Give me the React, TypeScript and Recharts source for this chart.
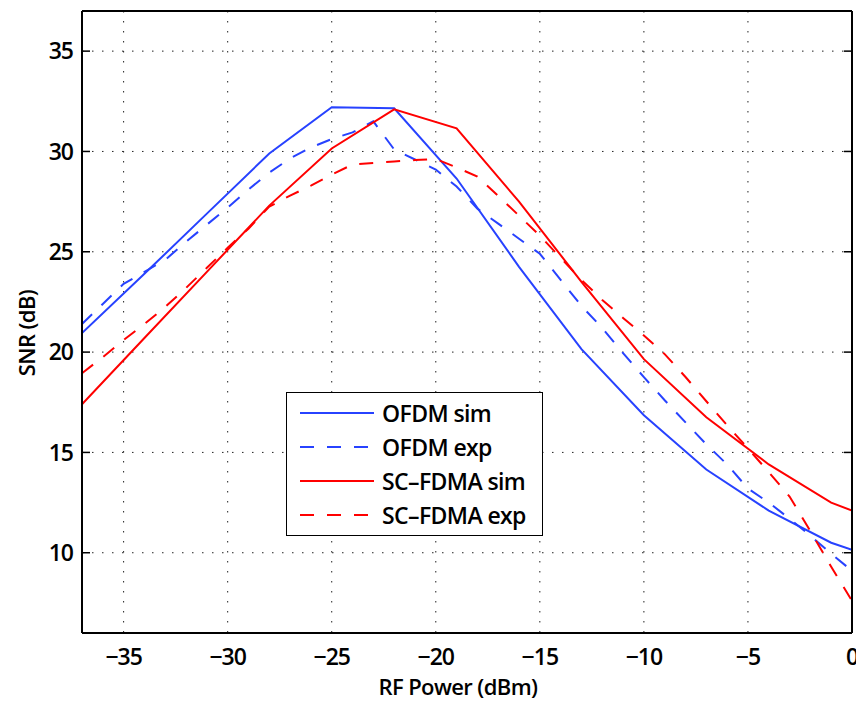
import { LineChart, Line, XAxis, YAxis, CartesianGrid, Legend } from 'recharts';

// simulation points every 3 dB
const SIM_POWER = [-37, -34, -31, -28, -25, -22, -19, -16, -13, -10, -7, -4, -1, 0];
const OFDM_SIM = [20.95, 23.9, 26.9, 29.9, 32.2, 32.15, 28.65, 24.25, 20.15, 16.85, 14.15, 12.1, 10.5, 10.15];
const SCFDMA_SIM = [17.4, 20.7, 24.0, 27.3, 30.15, 32.1, 31.15, 27.5, 23.5, 19.65, 16.75, 14.4, 12.5, 12.1];

// measured points every 1 dB
const EXP_POWER = [
  -37, -36, -35, -34, -33, -32, -31, -30, -29, -28, -27, -26, -25, -24, -23, -22, -21, -20, -19,
  -18, -17, -16, -15, -14, -13, -12, -11, -10, -9, -8, -7, -6, -5, -4, -3, -2, -1, 0,
];
const OFDM_EXP = [
  21.4, 22.4, 23.4, 24.0, 24.6, 25.5, 26.35, 27.2, 28.1, 28.95, 29.65, 30.2, 30.62, 30.95, 31.5, 30.1, 29.6, 29.1, 28.25,
  27.15, 26.4, 25.65, 24.9, 23.6, 22.3, 21.2, 19.95, 18.75, 17.6, 16.5, 15.4, 14.4, 13.2, 12.5, 11.7, 10.85, 9.95, 9.1,
];
const SCFDMA_EXP = [
  18.95, 19.75, 20.6, 21.4, 22.25, 23.2, 24.2, 25.2, 26.15, 27.25, 27.8, 28.3, 28.85, 29.35, 29.43, 29.5, 29.57, 29.62, 29.2,
  28.75, 27.78, 26.8, 25.8, 24.7, 23.6, 22.6, 21.7, 20.83, 19.9, 18.76, 17.55, 16.35, 15.2, 14.02, 12.8, 11.08, 9.3, 7.6,
];

const X_TICKS = [-35, -30, -25, -20, -15, -10, -5, 0];
const Y_TICKS = [10, 15, 20, 25, 30, 35];

const SERIES_NAMES = ['OFDM sim', 'OFDM exp', 'SC\u2013FDMA sim', 'SC\u2013FDMA exp'];

const BLUE = '#2742ff';
const RED = '#ff0000';
const DASH = '14 13';
const FONT = '"Open Sans", "DejaVu Sans", sans-serif';

const simData = SIM_POWER.map((x, i) => ({ x, ofdm: OFDM_SIM[i], scfdma: SCFDMA_SIM[i] }));
const expData = EXP_POWER.map((x, i) => ({ x, ofdm: OFDM_EXP[i], scfdma: SCFDMA_EXP[i] }));

const legendStyles = [
  { color: BLUE, dash: undefined },
  { color: BLUE, dash: DASH },
  { color: RED, dash: undefined },
  { color: RED, dash: DASH },
];

function LegendBox() {
  return (
    <div
      style={{
        width: 257,
        height: 144,
        boxSizing: 'border-box',
        border: '1.5px solid #000',
        background: '#fff',
        paddingTop: 3,
        fontFamily: FONT,
        fontSize: 23,
        fontWeight: 600,
        letterSpacing: -0.6,
        color: '#000',
      }}
    >
      {SERIES_NAMES.map((name, i) => (
        <div key={name} style={{ height: 34, display: 'flex', alignItems: 'center' }}>
          <svg width={95} height={34} style={{ flexShrink: 0 }}>
            <line
              x1={13}
              x2={87}
              y1={17}
              y2={17}
              stroke={legendStyles[i].color}
              strokeWidth={2}
              strokeDasharray={legendStyles[i].dash}
            />
          </svg>
          <span style={{ whiteSpace: 'nowrap', lineHeight: '34px' }}>{name}</span>
        </div>
      ))}
    </div>
  );
}

const tickStyle = { fontSize: 23, fill: '#000', fontFamily: FONT, fontWeight: 600, letterSpacing: -1 };
const minus = (v: number) => String(v).replace('-', '\u2212');
const blank = () => '';

export default function App() {
  return (
    <div style={{ width: 856, height: 694, fontFamily: FONT }}>
      <LineChart width={856} height={694} margin={{ top: 3, right: 12, bottom: 0, left: 0 }}>
        <CartesianGrid stroke="#222" strokeDasharray="1.5 8.5" />
        <XAxis
          dataKey="x"
          type="number"
          domain={[-37, 0]}
          ticks={X_TICKS}
          allowDataOverflow
          height={69}
          tickLine={false}
          tickSize={6}
          tickMargin={10}
          axisLine={{ stroke: '#000', strokeWidth: 2 }}
          tick={tickStyle}
          tickFormatter={minus}
          label={() => (
            <text x={450} y={678} textAnchor="middle" dominantBaseline="central" fontSize={22} fontWeight={600} letterSpacing={-0.6} fontFamily={FONT} fill="#000">
              RF Power (dBm)
            </text>
          )}
        />
        <XAxis xAxisId="bm" orientation="bottom" mirror type="number" domain={[-37, 0]} ticks={X_TICKS} allowDataOverflow tickFormatter={blank} tickSize={8} axisLine={false} tickLine={{ stroke: '#000', strokeWidth: 1.5 }} />
        <XAxis xAxisId="tm" orientation="top" mirror type="number" domain={[-37, 0]} ticks={X_TICKS} allowDataOverflow tickFormatter={blank} tickSize={8} axisLine={{ stroke: '#000', strokeWidth: 2 }} tickLine={{ stroke: '#000', strokeWidth: 1.5 }} />
        <YAxis
          type="number"
          domain={[6, 37]}
          ticks={Y_TICKS}
          allowDataOverflow
          width={74}
          tickLine={false}
          tickSize={6}
          tickMargin={3}
          axisLine={{ stroke: '#000', strokeWidth: 2 }}
          tick={tickStyle}
          label={() => (
            <text x={18} y={325} transform="rotate(-90, 18, 325)" textAnchor="middle" dominantBaseline="central" fontSize={22} fontWeight={600} letterSpacing={-0.6} fontFamily={FONT} fill="#000">
              SNR (dB)
            </text>
          )}
        />
        <YAxis yAxisId="lm" orientation="left" mirror type="number" domain={[6, 37]} ticks={Y_TICKS} allowDataOverflow tickFormatter={blank} tickSize={8} axisLine={false} tickLine={{ stroke: '#000', strokeWidth: 1.5 }} />
        <YAxis yAxisId="rm" orientation="right" mirror type="number" domain={[6, 37]} ticks={Y_TICKS} allowDataOverflow tickFormatter={blank} tickSize={8} axisLine={{ stroke: '#000', strokeWidth: 2 }} tickLine={{ stroke: '#000', strokeWidth: 1.5 }} />

        <Line data={simData} dataKey="ofdm" name={SERIES_NAMES[0]} type="linear" stroke={BLUE} strokeWidth={2} dot={false} isAnimationActive={false} />
        <Line data={expData} dataKey="ofdm" name={SERIES_NAMES[1]} type="linear" stroke={BLUE} strokeWidth={2} strokeDasharray={DASH} dot={false} isAnimationActive={false} />
        <Line data={simData} dataKey="scfdma" name={SERIES_NAMES[2]} type="linear" stroke={RED} strokeWidth={2} dot={false} isAnimationActive={false} />
        <Line data={expData} dataKey="scfdma" name={SERIES_NAMES[3]} type="linear" stroke={RED} strokeWidth={2} strokeDasharray={DASH} dot={false} isAnimationActive={false} />

        <Legend
          layout="vertical"
          align="center"
          verticalAlign="middle"
          content={() => <LegendBox />}
          wrapperStyle={{ left: 278, top: 384, width: 257, height: 144, right: 'auto', bottom: 'auto' }}
        />
      </LineChart>
    </div>
  );
}
